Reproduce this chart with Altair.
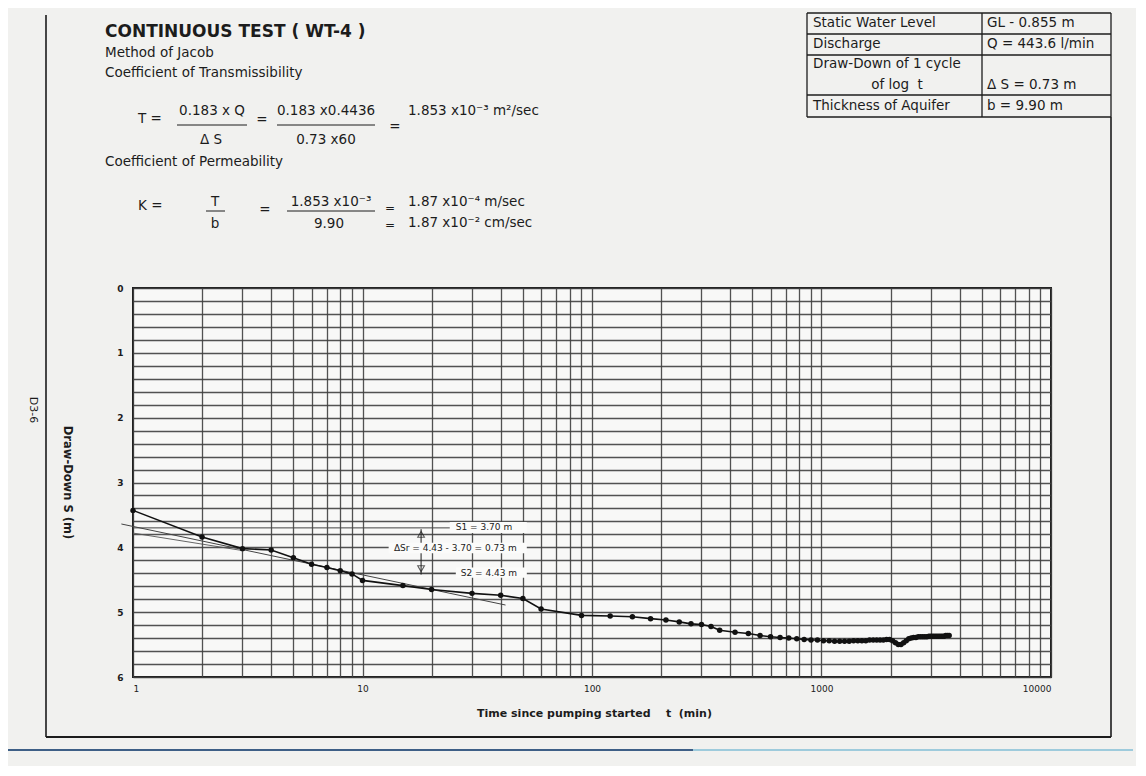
import altair as alt
import pandas as pd

# ---------------- data ----------------
time_min = [1, 2, 3, 4, 5, 6, 7, 8, 9, 10,
            15, 20, 30, 40, 50, 60,
            90, 120, 150, 180, 210, 240, 270, 300, 330, 360,
            420, 480, 540, 600,
            660, 720, 780, 840, 900, 960, 1020, 1080, 1140, 1200,
            1260, 1320, 1380, 1440, 1500, 1560, 1620, 1680, 1740, 1800, 1860, 1920, 1980,
            2040, 2100, 2160, 2220, 2280, 2340, 2400,
            2460, 2520, 2580, 2640, 2700, 2760, 2820, 2880, 2940, 3000,
            3060, 3120, 3180, 3240, 3300, 3360, 3420, 3480, 3540, 3600]
drawdown_m = [3.43, 3.84, 4.02, 4.04, 4.16, 4.26, 4.31, 4.36, 4.41, 4.51,
              4.59, 4.65, 4.71, 4.74, 4.79, 4.95,
              5.05, 5.06, 5.07, 5.10, 5.12, 5.15, 5.18, 5.19, 5.22, 5.28,
              5.31, 5.33, 5.36, 5.38,
              5.39, 5.40, 5.41, 5.42, 5.43, 5.43, 5.44, 5.44, 5.45, 5.45,
              5.45, 5.45, 5.44, 5.44, 5.44, 5.44, 5.43, 5.43, 5.43, 5.43, 5.43, 5.42, 5.42,
              5.44, 5.47, 5.50, 5.50, 5.47, 5.44, 5.41,
              5.40, 5.39, 5.39, 5.38, 5.38, 5.38, 5.38, 5.38, 5.37, 5.37,
              5.37, 5.37, 5.37, 5.37, 5.37, 5.37, 5.37, 5.36, 5.36, 5.36]

# Jacob straight-line fit (end points)
fit_t = [0.89, 42]
fit_s = [3.64, 4.89]
fit2_t = [1.0, 3.0]
fit2_s = [3.78, 4.05]

# S1 / S2 reference lines and arrow
s1_t = [1.0, 25]
s1_s = [3.70, 3.70]
s2_t = [8.5, 27]
s2_s = [4.40, 4.40]
arrow_t = [18, 18]
arrow_s = [3.72, 4.42]

label_texts = ["S1 = 3.70 m", "\u0394Sr = 4.43 - 3.70 = 0.73 m", "S2 = 4.43 m"]
label_t = [25.5, 13.7, 26.8]
label_s = [3.69, 4.01, 4.39]
box_t1 = [24.0, 13.0, 25.5]
box_t2 = [52.0, 52.0, 52.0]
box_s1 = [3.61, 3.93, 4.31]
box_s2 = [3.78, 4.09, 4.47]

x_ticks = [1, 2, 3, 4, 5, 6, 7, 8, 9,
           10, 20, 30, 40, 50, 60, 70, 80, 90,
           100, 200, 300, 400, 500, 600, 700, 800, 900,
           1000, 2000, 3000, 4000, 5000, 6000, 7000, 8000, 9000, 10000]
y_ticks = [round(0.2 * i, 1) for i in range(31)]

# ---------------- style ----------------
INK = "#1c1c1c"
GRID = "#3f3f3f"
BG = "#f1f1ef"
FONT = "DejaVu Sans"

XS = alt.Scale(type="log", domain=[1, 10000], nice=False)
YS = alt.Scale(domain=[0, 6], reverse=True, nice=False, zero=False)

XAX = alt.Axis(values=x_ticks, grid=True, ticks=False, domain=False,
               labelExpr="indexof([1,10,100,1000,10000], datum.value) >= 0 ? format(datum.value, 'd') : ''",
               labelOverlap=False, labelFontSize=9, labelColor=INK, labelPadding=7,
               title="Time since pumping started\u00a0\u00a0\u00a0\u00a0t\u00a0\u00a0(min)",
               titleFontSize=11, titleFontWeight="bold", titleColor=INK,
               titleX=461, titleY=36, titleBaseline="middle", titleAnchor="middle")
YAX = alt.Axis(values=y_ticks, grid=True, ticks=False, domain=False,
               labelExpr="abs(datum.value - round(datum.value)) < 0.001 ? format(datum.value, 'd') : ''",
               labelOverlap=False, labelFontSize=9, labelColor=INK, labelPadding=10,
               labelFontWeight="bold",
               title="Draw-Down S (m)", titleAngle=90, titleFontSize=11.5,
               titleFontWeight="bold", titleColor=INK,
               titleX=-67, titleY=194, titleBaseline="middle", titleAlign="center")


def X():
    return alt.X("t:Q", scale=XS, axis=XAX)


def Y():
    return alt.Y("s:Q", scale=YS, axis=YAX)


one = pd.DataFrame({"k": [0]})


def ptext(s, x, y, size=13.5, weight="normal", align="left", angle=0):
    return alt.Chart(one).mark_text(
        fontSize=size, fontWeight=weight, align=align, baseline="middle",
        angle=angle, font=FONT, color=INK
    ).encode(x=alt.value(x), y=alt.value(y), text=alt.value(s))


def prule(x1, x2, y1, y2, color=INK, w=1.0):
    return alt.Chart(one).mark_rule(color=color, strokeWidth=w).encode(
        x=alt.value(x1), x2=alt.value(x2), y=alt.value(y1), y2=alt.value(y2))


layers = []

# page frame and scan line
layers += [
    prule(-87, -87, -273, 449, INK, 1.6),
    prule(-87, 978, 449, 449, INK, 2.2),
    prule(978, 978, -171, 449, INK, 1.6),
    prule(-125, 560, 462, 462, "#3e5f86", 2.2),
    prule(560, 1000, 462, 462, "#9ecbdc", 2.0),
]

# data-driven plot content
df = pd.DataFrame({"t": time_min, "s": drawdown_m})
fit = pd.DataFrame({"t": fit_t, "s": fit_s})
fit2 = pd.DataFrame({"t": fit2_t, "s": fit2_s})
s1 = pd.DataFrame({"t": s1_t, "s": s1_s})
s2 = pd.DataFrame({"t": s2_t, "s": s2_s})
arr = pd.DataFrame({"t": arrow_t, "s": arrow_s})
boxes = pd.DataFrame({"t": box_t1, "t2": box_t2, "s": box_s1, "s2": box_s2})
labels = pd.DataFrame({"t": label_t, "s": label_s, "lab": label_texts})
heads = pd.DataFrame({"t": [18, 18], "s": [3.80, 4.33], "shape": ["triangle-up", "triangle-down"]})

layers += [
    alt.Chart(fit).mark_line(color="#444", strokeWidth=1.0).encode(x=X(), y=Y()),
    alt.Chart(fit2).mark_line(color="#555", strokeWidth=0.9).encode(x=X(), y=Y()),
    alt.Chart(s1).mark_line(color="#444", strokeWidth=1.0).encode(x=X(), y=Y()),
    alt.Chart(s2).mark_line(color="#444", strokeWidth=1.0).encode(x=X(), y=Y()),
    alt.Chart(arr).mark_line(color=INK, strokeWidth=1.0).encode(x=X(), y=Y()),
    alt.Chart(boxes).mark_rect(color="#fbfbfa").encode(x=X(), x2="t2:Q", y=Y(), y2="s2:Q"),
    alt.Chart(labels).mark_text(align="left", baseline="middle", fontSize=9, font=FONT, color=INK)
        .encode(x=X(), y=Y(), text="lab:N"),
    alt.Chart(heads).mark_point(filled=False, color=INK, size=45, strokeWidth=1.1)
        .encode(x=X(), y=Y(), shape=alt.Shape("shape:N", scale=None)),
    alt.Chart(df).mark_line(color="#111", strokeWidth=1.6).encode(x=X(), y=Y()),
    alt.Chart(df).mark_circle(color="#111", size=30, opacity=1).encode(x=X(), y=Y()),
]

# header texts
layers += [
    ptext("CONTINUOUS TEST ( WT-4 )", -28, -256, 17, "bold"),
    ptext("Method of Jacob", -28, -235),
    ptext("Coefficient of Transmissibility", -28, -215),
    ptext("T =", 5, -169),
    ptext("0.183 x Q", 79, -177, align="center"),
    prule(44, 114, -163, -163, INK, 1.0),
    ptext("\u0394 S", 78, -148, align="center"),
    ptext("=", 129, -168, align="center"),
    ptext("0.183 x0.4436", 193, -177, align="center"),
    prule(144, 242, -163, -163, INK, 1.0),
    ptext("0.73 x60", 193, -148, align="center"),
    ptext("=", 262, -161, align="center"),
    ptext("1.853 x10\u207b\u00b3 m\u00b2/sec", 275, -177),
    ptext("Coefficient of Permeability", -28, -126),
    ptext("K =", 5, -82),
    ptext("T", 82, -86, align="center"),
    prule(73, 92, -77, -77, INK, 1.0),
    ptext("b", 82, -64, align="center"),
    ptext("=", 132, -78, align="center"),
    ptext("1.853 x10\u207b\u00b3", 198, -86, align="center"),
    prule(154, 242, -77, -77, INK, 1.0),
    ptext("9.90", 196, -64, align="center"),
    ptext("=", 257, -80, 12, align="center"),
    ptext("1.87 x10\u207b\u2074 m/sec", 275, -86),
    ptext("=", 257, -63, 12, align="center"),
    ptext("1.87 x10\u207b\u00b2 cm/sec", 275, -65),
    ptext("D3-6", -100, 122, 11, angle=90, align="center"),
]

# parameter table
tl, tm, tr = 674, 849, 978
rows = [-275, -254, -233, -193, -171]
layers += [prule(tl, tr, r, r, INK, 1.3) for r in rows]
layers += [prule(x, x, rows[0], rows[-1], INK, 1.3) for x in (tl, tm, tr)]
layers += [
    ptext("Static Water Level", 680, -265),
    ptext("GL - 0.855 m", 854, -265),
    ptext("Discharge", 680, -244),
    ptext("Q = 443.6 l/min", 854, -244),
    ptext("Draw-Down of 1 cycle", 680, -224),
    ptext("of log\u00a0\u00a0t", 764, -203, align="center"),
    ptext("\u0394 S = 0.73 m", 854, -203),
    ptext("Thickness of Aquifer", 680, -182),
    ptext("b = 9.90 m", 854, -182),
]

chart = alt.layer(*layers).properties(
    width=918, height=389,
    autosize=alt.AutoSizeParams(type="none"),
    padding={"left": 125, "top": 280, "right": 85, "bottom": 89},
    background=BG,
).configure_view(
    stroke="#1e1e1e", strokeWidth=2, fill="#f8f8f7"
).configure_axis(
    labelFont=FONT, titleFont=FONT, gridColor=GRID, gridWidth=1.3, gridOpacity=0.9
)

chart.save("out.html", embed_options={"renderer": "svg", "actions": False})
